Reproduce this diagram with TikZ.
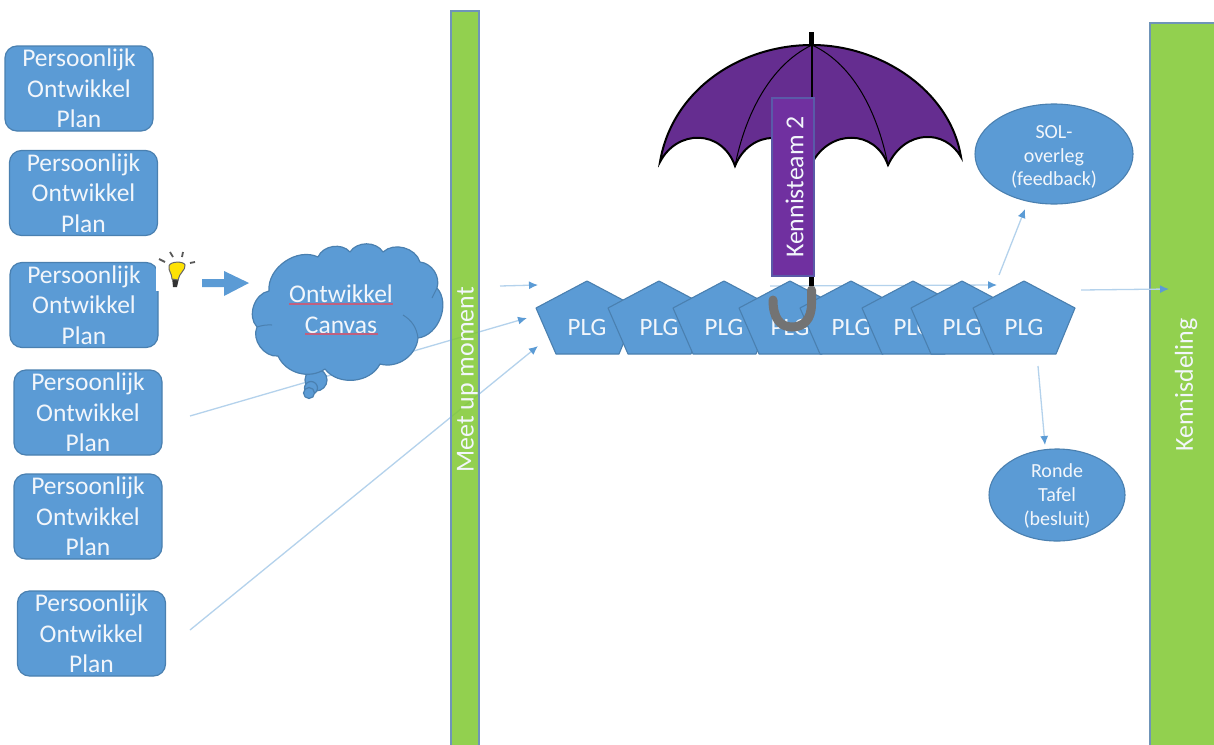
\documentclass[tikz,border=0pt]{standalone}
\usepackage{fontspec}
\setmainfont{Carlito}
\usetikzlibrary{arrows.meta,shapes.geometric}
\definecolor{plgblue}{HTML}{5B9BD5}
\definecolor{edgeblue}{HTML}{4A80B0}
\definecolor{linkblue}{HTML}{B4D2EC}
\definecolor{barbgreen}{HTML}{7FC831}
\definecolor{barline}{HTML}{6F94B8}
\definecolor{umbpurple}{HTML}{652D90}
\definecolor{labpurple}{HTML}{7030A0}
\definecolor{labline}{HTML}{5A5AA8}
\definecolor{txtwhite}{HTML}{F2F6FB}
\definecolor{spellred}{HTML}{C0607F}
\tikzset{
  x=1pt,y=-1pt,
  planbox/.style={draw=edgeblue,line width=1.2pt,fill=plgblue,rounded corners=12pt,minimum width=148pt,minimum height=85pt,inner sep=0pt,align=center,text=txtwhite,font=\fontsize{25.5}{30.5}\selectfont},
  bar/.style={draw=barline,line width=1.3pt,fill=barbgreen,fill opacity=0.85},
  bartext/.style={rotate=90,text=txtwhite,font=\fontsize{25.9}{30}\selectfont,inner sep=0pt},
  link/.style={draw=linkblue,line width=1.3pt,-{Latex[length=9pt,width=8pt,color=plgblue]}},
  pentshape/.style={draw=edgeblue,line width=1.1pt,fill=plgblue,line join=round},
  pentlabel/.style={text=txtwhite,font=\fontsize{25}{28}\selectfont,inner sep=0pt},
  bubble/.style={draw=edgeblue,line width=1.2pt,fill=plgblue},
  oval/.style={ellipse,draw=edgeblue,line width=1.1pt,fill=plgblue,inner sep=0pt},
  ovaltext/.style={inner sep=0pt,align=center,text=txtwhite,font=\fontsize{20}{23.7}\selectfont},
  squiggle/.style={draw=spellred,line width=1.3pt},
}
\newcommand{\pentagon}[2]{%
  \draw[pentshape] (#2,281) -- (#2+51,308) -- (#2+32,354) -- (#2-31,354) -- (#2-51,308) -- cycle;
  \node[pentlabel] (#1) at (#2,327) {PLG};
}
\begin{document}
\begin{tikzpicture}
\useasboundingbox (0,0) rectangle (1214,744);
\fill[white] (0,0) rectangle (1214,744);
% named free ends
\coordinate (a1s) at (500,286); \coordinate (a1e) at (538,285);
\coordinate (a2s) at (190,416); \coordinate (a2e) at (527,318);
\coordinate (a3s) at (190,630); \coordinate (a3e) at (538,346);
\coordinate (a4s) at (770,286); \coordinate (a4e) at (997,285);
\coordinate (a5s) at (999,275); \coordinate (a5e) at (1025,209);
\coordinate (a6s) at (1081,290); \coordinate (a6e) at (1169,289);
\coordinate (a7s) at (1038,366); \coordinate (a7e) at (1045,445);
% links that run under the first bar
\draw[link] (a2s) -- (a2e);
\draw[link] (a3s) -- (a3e);
% bars
\draw[bar] (451,11) rectangle (479,760);
\draw[bar] (1150,23) rectangle (1230,760);
% plan boxes
\node[planbox] (p1) at (79,88.5) {Persoonlijk\\Ontwikkel\\Plan};
\node[planbox] (p2) at (83.5,193) {Persoonlijk\\Ontwikkel\\Plan};
\node[planbox] (p3) at (84,305) {Persoonlijk\\Ontwikkel\\Plan};
\node[planbox] (p4) at (88,412.5) {Persoonlijk\\Ontwikkel\\Plan};
\node[planbox] (p5) at (88,516.5) {Persoonlijk\\Ontwikkel\\Plan};
\node[planbox] (p6) at (91.5,633.5) {Persoonlijk\\Ontwikkel\\Plan};
% bulb with white backing
\fill[white] (156,250) rectangle (198,291);
\draw[black!65,line width=1.8pt]
  (159,259)--(165,262) (170,252)--(173,257) (183,252)--(182,257) (190,263)--(195,262);
\fill[black!80] (172,277) -- (179,278) -- (177,287) -- (173,287) -- cycle;
\draw[black!60,fill=yellow!85!orange,line width=1pt]
  (172,279) .. controls (172,273) and (168,271) .. (169,266) .. controls (170,261) and (184,261) .. (185,265) .. controls (186,270) and (179,273) .. (178,280) -- cycle;
% block arrow
\fill[plgblue] (202,279) -- (224,279) -- (224,271) -- (249,283) -- (224,296) -- (224,287) -- (202,287) -- cycle;
% other links
\draw[link] (a1s) -- (a1e);
\draw[link] (a4s) -- (a4e);
\draw[link] (a5s) -- (a5e);
\draw[link] (a6s) -- (a6e);
\draw[link] (a7s) -- (a7e);
% bar labels
\node[bartext] (meet) at (467.5,380) {Meet up moment};
\node[bartext] (share) at (1186,385) {Kennisdeling};
% cloud
\draw[bubble] (316,380) circle (11);
\draw[bubble] (311,388) circle (6.5);
\draw[bubble] (309,393) circle (5.5);
\draw[bubble,line join=round] (269,291) to[bend left=60] (318,257) to[bend left=58] (350,252)
  to[bend left=58] (383,252) to[bend left=58] (420,262) to[bend left=50] (437,288)
  to[bend left=62] (418,338) to[bend left=50] (380,364) to[bend left=58] (325,369)
  to[bend left=50] (278,356) to[bend left=60] (257,327) to[bend left=62] (269,291) -- cycle;
\draw[edgeblue,line width=1pt] (432,298) -- (437,288) (403,315) to[bend left=25] (418,338) (257,327) to[bend left=10] (272,325);
\node[text=txtwhite,font=\fontsize{25.5}{30.5}\selectfont,inner sep=0pt,align=center] (canvas) at (341,309) {Ontwikkel\\Canvas};
\draw[squiggle] (289,304) -- (393,304) (305,334) -- (378,334);
% pentagons
\pentagon{g1}{587}
\pentagon{g2}{659}
\pentagon{g3}{724}
\pentagon{g4}{790}
\pentagon{g5}{851}
\pentagon{g6}{913}
\pentagon{g7}{962}
\pentagon{g8}{1024}
% ovals
\node[oval,minimum width=158pt,minimum height=100pt] (sol) at (1054,154) {};
\node[ovaltext] (soltext) at (1054,157) {SOL-\\overleg\\(feedback)};
\node[oval,minimum width=136pt,minimum height=92pt] (ronde) at (1057,495) {};
\node[ovaltext] (rondetext) at (1057,496) {Ronde\\Tafel\\(besluit)};
% umbrella
\draw[black,line width=5pt] (811.5,32) -- (811.5,46);
\draw[black,line width=2pt,fill=umbpurple,line join=miter]
  (660,162) .. controls (672,90) and (740,45) .. (812,45)
  .. controls (880,45) and (950,90) .. (961,157)
  .. controls (945,129) and (905,129) .. (888,165)
  .. controls (875,129) and (830,129) .. (812,163)
  .. controls (795,129) and (750,129) .. (735,166)
  .. controls (722,129) and (677,129) .. cycle;
\draw[black,line width=1pt] (812,45) .. controls (770,65) and (745,115) .. (735,166);
\draw[black,line width=1pt] (812,45) .. controls (855,65) and (878,115) .. (888,165);
\draw[black,line width=2pt] (812,45) -- (812,163);
\draw[black!55,line width=9pt,line cap=round] (811.5,290) -- (811.5,304)
  .. controls (811.5,320) and (803,327) .. (792,327) .. controls (780,327) and (773,318) .. (773,300);
\draw[black,line width=5pt] (811.5,274) -- (811.5,286);
% team label
\draw[draw=labline,line width=1.2pt,fill=labpurple] (772,98) rectangle (814,276);
\node[rotate=90,text=txtwhite,font=\fontsize{25.8}{28}\selectfont,inner sep=0pt] (team) at (794.5,187) {Kennisteam 2};
\end{tikzpicture}
\end{document}
